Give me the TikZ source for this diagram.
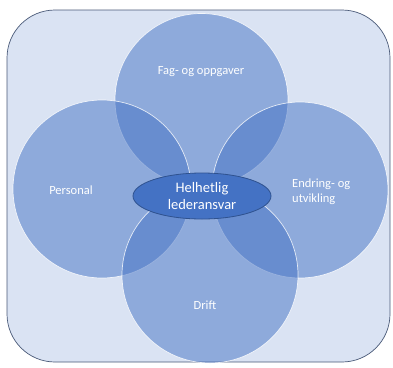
\documentclass[tikz,border=0pt]{standalone}
\usepackage{fontspec}
\setmainfont{Carlito}
\usetikzlibrary{shapes.geometric}
\definecolor{bgblue}{HTML}{DAE3F3}
\definecolor{frame}{HTML}{4A5A78}
\definecolor{accent}{HTML}{4472C4}
\definecolor{ellborder}{HTML}{2F528F}
\begin{document}
\begin{tikzpicture}[x=1pt,y=-1pt,
  bubble/.style={circle, fill=accent, fill opacity=0.5, draw=white, draw opacity=0.8, line width=0.7pt},
  lbl/.style={text=white, font=\fontsize{12.5}{15}\selectfont, inner sep=0pt},
  core/.style={ellipse, fill=accent, draw=ellborder, line width=0.8pt, text=white, align=center, font=\fontsize{14.5}{16.5}\selectfont, inner sep=0pt, minimum width=138pt, minimum height=46pt}]
\useasboundingbox (0,0) rectangle (393,367);
\fill[white] (0,0) rectangle (393,367);
\draw[fill=bgblue, draw=frame, line width=0.7pt, rounded corners=48pt] (7,10) rectangle (390,362);
\draw[bubble] (201.5,100) circle[radius=86.5] coordinate (ctop);
\draw[bubble] (102,189) circle[radius=89] coordinate (cleft);
\draw[bubble] (300,190) circle[radius=88] coordinate (cright);
\draw[bubble] (210,275) circle[radius=88] coordinate (cbottom);
\node[lbl] (top) at (201,72) {Fag- og oppgaver};
\node[lbl] (left) at (71,190) {Personal};
\node[lbl, align=left, anchor=west] (right) at (292,192) {Endring- og\\utvikling};
\node[lbl] (bottom) at (205,305) {Drift};
\node[core] (center) at (202,196) {Helhetlig\\lederansvar};
\end{tikzpicture}
\end{document}
